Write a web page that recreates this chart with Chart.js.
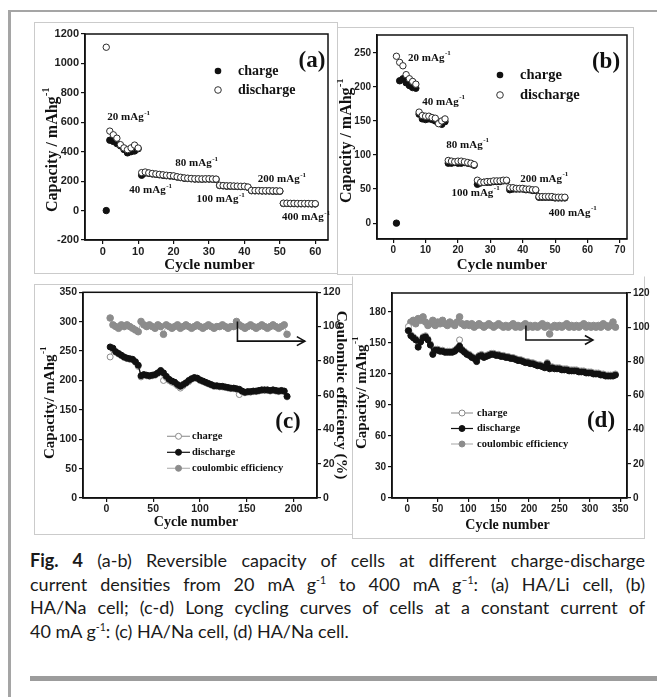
<!DOCTYPE html>
<html><head><meta charset="utf-8">
<script src="https://cdn.jsdelivr.net/npm/chart.js@4.4.1/dist/chart.umd.min.js"></script>
<style>
html,body{margin:0;padding:0;background:#fff;}
body{width:657px;height:697px;position:relative;overflow:hidden;}
canvas{position:absolute;}
.pbox{position:absolute;border:1.5px solid #cbcbcb;box-sizing:border-box;}
#outer{position:absolute;left:8px;top:10px;width:700px;height:700px;border-left:3px solid #a5a5a5;border-top:2.5px solid #a5a5a5;box-sizing:border-box;}
#cap{position:absolute;left:30px;top:549px;width:615px;font-family:Lato,"Open Sans",sans-serif;font-size:18px;color:#1a1a1a;line-height:23.7px;}
#cap .j{text-align:justify;text-align-last:justify;}
#cap sup{font-size:10.5px;line-height:0;vertical-align:baseline;position:relative;top:-7px;}
#bar{position:absolute;left:30px;top:676px;width:640px;height:5px;background:#9c9c9c;}
</style></head>
<body>
<div id="outer"></div>
<div class="pbox" style="left:34px;top:22px;width:304px;height:252px"></div>
<div class="pbox" style="left:337px;top:27px;width:297px;height:248px"></div>
<div class="pbox" style="left:34px;top:284px;width:319px;height:251px"></div>
<div class="pbox" style="left:352px;top:276px;width:293px;height:263px;border-top-color:#fff"></div>
<canvas id="ca" width="303" height="251" style="left:34px;top:22px"></canvas>
<canvas id="cb" width="296" height="247" style="left:337px;top:27px"></canvas>
<canvas id="cc" width="318" height="250" style="left:34px;top:284px"></canvas>
<canvas id="cd" width="300" height="262" style="left:352px;top:276px"></canvas>
<div id="cap">
<div class="j"><b>Fig. 4</b> (a-b) Reversible capacity of cells at different charge-discharge</div>
<div class="j">current densities from 20 mA g<sup>-1</sup> to 400 mA g<sup>–1</sup>: (a) HA/Li cell, (b)</div>
<div class="j">HA/Na cell; (c-d) Long cycling curves of cells at a constant current of</div>
<div>40 mA g<sup>-1</sup>: (c) HA/Na cell, (d) HA/Na cell.</div>
</div>
<div id="bar"></div>
<script>
// ---------------- data ----------------
const A_CYCLES = [1,2,3,4,5,6,7,8,9,10,11,12,13,14,15,16,17,18,19,20,21,22,23,24,25,26,27,28,29,30,31,32,33,34,35,36,37,38,39,40,41,42,43,44,45,46,47,48,49,50,51,52,53,54,55,56,57,58,59,60];
const A_DISCHARGE = [1110,540,515,492,448,426,414,426,445,425,
  258,262,256,252,249,246,243,240,238,236,
  230,226,222,220,218,216,216,215,216,216,
  215,214,172,170,168,168,167,166,165,165,
  160,137,136,136,135,135,135,134,134,133,
  50,50,49,49,48,48,48,48,47,47];
const A_CHARGE = [0,478,470,455,440,415,392,400,405,420,
  240,255,253,249,246,243,240,237,235,233,
  228,224,220,218,216,214,214,213,214,214,
  213,212,170,168,166,166,165,164,163,163,
  158,135,134,134,133,133,133,132,132,131,
  48,48,47,47,46,46,46,46,45,45];
const A_XTICKS = [0,10,20,30,40,50,60];
const A_YTICKS = [-200,0,200,400,600,800,1000,1200];

const B_CYCLES = [1,2,3,4,5,6,7,8,9,10,11,12,13,14,15,16,17,18,19,20,21,22,23,24,25,26,27,28,29,30,31,32,33,34,35,36,37,38,39,40,41,42,43,44,45,46,47,48,49,50,51,52,53];
const B_DISCHARGE = [245,236,231,218,212,208,204,
  163,158,157,157,155,154,146,150,153,
  92,91,90,91,91,90,89,88,86,
  63,60,60,61,61,62,62,62,63,63,
  52,52,51,51,51,50,50,49,49,
  39,39,39,39,39,38,38,38,38];
const B_CHARGE = [0,209,212,206,202,199,198,
  160,153,152,153,152,150,147,145,149,
  88,88,89,88,88,89,88,87,85,
  57,59,60,60,60,61,61,61,62,62,
  49,50,50,50,50,49,49,48,48,
  38,38,38,38,38,37,37,37,37];
const B_XTICKS = [0,10,20,30,40,50,60,70];
const B_YTICKS = [0,50,100,150,200,250];

const C_CYCLES = [4,7,10,13,16,19,22,25,28,31,34,37,40,43,46,49,52,55,58,61,64,67,70,73,76,79,82,85,88,91,94,97,100,103,106,109,112,115,118,121,124,127,130,133,136,139,142,145,148,151,154,157,160,163,166,169,172,175,178,181,184,187,190,193];
const C_DISCHARGE = [257,255,249,246,243,240,238,237,236,232,
  226,208,210,209,208,209,210,213,217,213,
  207,202,199,197,193,190,193,196,200,203,
  205,204,201,199,197,195,193,191,191,190,
  190,189,188,187,187,186,185,182,180,181,
  181,182,182,183,184,184,184,183,184,183,
  182,183,182,173];
const C_CHARGE = [240,253,248,245,242,239,237,236,235,231,
  224,206,209,208,207,208,209,212,215,200,
  205,200,197,195,191,187,191,195,198,202,
  204,203,200,198,196,194,192,190,190,189,
  189,188,187,186,186,185,176,181,179,180,
  180,181,181,182,183,183,183,182,183,182,
  181,182,181,172];
const C_CE = [105,101,100,99,101,100,101,100,99,98,
  97,103,101,100,101,100,99,101,100,95.5,
  101,100,99,100,101,99,100,101,100,99,
  100,101,100,99,100,101,100,99,100,100,
  101,100,99,100,100,103,101,100,99,100,
  101,100,99,100,101,100,99,100,101,100,
  99,100,101,95.5];
const C_XTICKS = [0,50,100,150,200];
const C_YTICKS = [0,50,100,150,200,250,300,350];
const C_Y2TICKS = [0,20,40,60,80,100,120];

const D_CYCLES = [2,6,10,14,18,22,26,30,34,38,42,46,50,54,58,62,66,70,74,78,82,86,90,94,98,102,106,110,114,118,122,126,130,134,138,142,146,150,154,158,162,166,170,174,178,182,186,190,194,198,202,206,210,214,218,222,226,230,234,238,242,246,250,254,258,262,266,270,274,278,282,286,290,294,298,302,306,310,314,318,322,326,330,334,338,342];
const D_DISCHARGE = [162,157,155,153,146,151,155,156,153,148,
  139,143,143,142,142,141,141,141,141,142,
  144,147,143,141,139,138,136,135,132,137,
  138,136,137,138,139,139,138,138,137,137,
  136,136,135,135,134,133,133,132,131,131,
  130,130,129,128,128,127,126,130,125,126,
  125,125,125,124,124,124,123,123,123,123,
  122,122,122,121,121,121,120,120,120,119,
  119,118,118,118,118,119];
const D_CHARGE = [166,158,156,154,148,152,156,157,154,149,
  140,144,144,143,143,142,142,142,142,143,
  145,153,144,142,140,139,137,136,133,138,
  139,137,138,139,140,140,139,139,138,138,
  137,137,136,136,135,134,134,133,132,132,
  131,131,130,129,129,128,127,131,126,127,
  126,126,126,125,125,125,124,124,124,124,
  123,123,123,122,122,122,121,121,121,120,
  120,119,119,119,119,120];
const D_CE = [98,103,104,102,105,104,106,103,101,102,
  104,101,103,102,104,102,101,103,102,101,
  103,106,102,101,102,101,102,100,101,102,
  101,100,101,102,101,100,101,102,101,100,
  101,100,101,102,100,101,100,101,102,100,
  101,100,101,100,101,102,100,101,96,100,
  101,100,101,100,101,102,100,101,100,101,
  100,101,102,100,101,100,101,100,101,100,
  102,101,100,101,103,100];
const D_XTICKS = [0,50,100,150,200,250,300,350];
const D_YTICKS = [0,30,60,90,120,150,180];
const D_Y2TICKS = [0,20,40,60,80,100,120];

// ---------------- helpers ----------------
const SERIF = '"Liberation Serif","Times New Roman",serif';
const SANS = '"Liberation Sans",Arial,sans-serif';
function pairs(xs, ys){ return xs.map((x,i)=>({x:x, y:ys[i]})); }

function supText(ctx, x, y, base, sup, size, o){
  o = o || {};
  ctx.save();
  ctx.translate(x, y); ctx.rotate(o.rot || 0);
  ctx.fillStyle = o.color || '#111';
  ctx.textBaseline = 'middle'; ctx.textAlign = 'left';
  const f1 = 'bold ' + size + 'px ' + SERIF;
  const ss = Math.round(size * 0.62);
  const f2 = 'bold ' + ss + 'px ' + SERIF;
  ctx.font = f1; const w1 = ctx.measureText(base).width;
  ctx.font = f2; const w2 = sup ? ctx.measureText(sup).width : 0;
  const x0 = (o.align === 'left') ? 0 : -(w1 + w2) / 2;
  ctx.font = f1; ctx.fillText(base, x0, 0);
  if (sup) { ctx.font = f2; ctx.fillText(sup, x0 + w1 + 0.5, -size * 0.42); }
  ctx.restore();
}

const deco = {
  id: 'deco',
  afterDatasetsDraw(chart, args, o){
    const ctx = chart.ctx, ca = chart.chartArea, sx = chart.scales.x, sy = chart.scales.y;
    ctx.save();
    ctx.strokeStyle = '#111'; ctx.lineWidth = 1.5;
    ctx.strokeRect(ca.left, ca.top, ca.right - ca.left, ca.bottom - ca.top);
    ctx.restore();
    if (o.arrow){
      const a = o.arrow, s2 = chart.scales[a.axis];
      const X0 = sx.getPixelForValue(a.x), Y0 = s2.getPixelForValue(a.yTop);
      const Y1 = s2.getPixelForValue(a.yBend), X1 = sx.getPixelForValue(a.xEnd);
      ctx.save(); ctx.strokeStyle = '#111'; ctx.lineWidth = 1.6;
      ctx.beginPath(); ctx.moveTo(X0, Y0); ctx.lineTo(X0, Y1); ctx.lineTo(X1, Y1); ctx.stroke();
      ctx.beginPath(); ctx.moveTo(X1 - 8, Y1 - 4.5); ctx.lineTo(X1, Y1); ctx.lineTo(X1 - 8, Y1 + 4.5); ctx.stroke();
      ctx.restore();
    }
    (o.notes || []).forEach(n => supText(ctx, sx.getPixelForValue(n.x), sy.getPixelForValue(n.y), n.text, n.sup, n.size, {align:'left'}));
    if (o.legend){
      const L = o.legend;
      L.items.forEach((it, i) => {
        const cx = ca.left + L.dx, cy = ca.top + L.dy + i * L.gap;
        ctx.save(); ctx.beginPath(); ctx.arc(cx, cy, L.r, 0, Math.PI * 2);
        if (it.open){ ctx.fillStyle = '#fff'; ctx.fill(); ctx.strokeStyle = '#333'; ctx.lineWidth = 1; ctx.stroke(); }
        else { ctx.fillStyle = '#111'; ctx.fill(); }
        ctx.restore();
        supText(ctx, ca.left + L.tx, cy, it.label, '', L.size, {align:'left'});
      });
    }
    if (o.legend2){
      const L = o.legend2;
      L.items.forEach((it, i) => {
        const x0 = ca.left + L.lx, cy = ca.top + L.dy + i * L.gap;
        ctx.save();
        ctx.strokeStyle = it.line; ctx.lineWidth = 1.2;
        ctx.beginPath(); ctx.moveTo(x0, cy); ctx.lineTo(x0 + L.lw, cy); ctx.stroke();
        ctx.beginPath(); ctx.arc(x0 + L.lw / 2, cy, L.r, 0, Math.PI * 2);
        ctx.fillStyle = it.fill; ctx.fill(); ctx.strokeStyle = it.stroke; ctx.lineWidth = 1; ctx.stroke();
        ctx.restore();
        supText(ctx, ca.left + L.tx, cy, it.label, '', L.size, {align:'left'});
      });
    }
    if (o.label) supText(ctx, ca.left + o.label.dx, ca.top + o.label.dy, o.label.text, '', o.label.size, {});
    if (o.yTitle) supText(ctx, o.yTitle.x, o.yTitle.y, o.yTitle.text, o.yTitle.sup, o.yTitle.size, {rot: -Math.PI / 2});
    if (o.y2Title) supText(ctx, o.y2Title.x, o.y2Title.y, o.y2Title.text, '', o.y2Title.size, {rot: Math.PI / 2});
    if (o.xTitle) supText(ctx, (ca.left + ca.right) / 2 + (o.xTitle.dx || 0), o.xTitle.y, o.xTitle.text, '', o.xTitle.size, {});
  }
};

function axis(min, max, ticks, o){
  return {
    type: 'linear', position: o.pos, min: min, max: max,
    afterBuildTicks: s => { s.ticks = ticks.map(v => ({value: v})); },
    afterFit: s => { if (o.w != null) s.width = o.w; if (o.h != null) s.height = o.h; },
    ticks: { autoSkip: false, maxRotation: 0, minRotation: 0, padding: (o.pad != null ? o.pad : 2), color: '#1e1e1e',
      font: { family: SANS, weight: 'bold', size: o.fs || 10.5 }, callback: v => String(v) },
    grid: { drawOnChartArea: false, drawTicks: true, tickLength: 4, color: '#111', lineWidth: 1.2 },
    border: { display: true, color: '#111', width: 1.5 }
  };
}

const OPEN = { pointRadius: 3.2, pointBackgroundColor: '#fff', pointBorderColor: '#2a2a2a', pointBorderWidth: 1, showLine: false };
const FILLED = { pointRadius: 3.2, pointBackgroundColor: '#111', pointBorderColor: '#111', pointBorderWidth: 1, showLine: false };
const BASE = { responsive: false, animation: false, events: [] };

// ---------------- (a) ----------------
new Chart(document.getElementById('ca'), {
  type: 'scatter',
  data: { datasets: [
    Object.assign({ label: 'discharge', data: pairs(A_CYCLES, A_DISCHARGE) }, OPEN),
    Object.assign({ label: 'charge', data: pairs(A_CYCLES, A_CHARGE) }, FILLED)
  ]},
  options: Object.assign({}, BASE, {
    layout: { padding: { top: 12, right: 9, left: 0, bottom: 0 } },
    plugins: { legend: { display: false }, tooltip: { enabled: false },
      deco: {
        yTitle: { x: 19, y: 128, text: 'Capacity / mAhg', sup: '-1', size: 16 },
        xTitle: { y: 243, text: 'Cycle number', size: 15, dx: 3 },
        label: { dx: 227, dy: 27, text: '(a)', size: 23 },
        legend: { dx: 133, dy: 37, gap: 19, r: 3.3, tx: 153, size: 14, items: [ {label:'charge'}, {label:'discharge', open:true} ] },
        notes: [
          { x: 1.3, y: 632, text: '20 mAg', sup: '-1', size: 11 },
          { x: 7.5, y: 136, text: '40 mAg', sup: '-1', size: 11 },
          { x: 20.5, y: 320, text: '80 mAg', sup: '-1', size: 11 },
          { x: 26.5, y: 75, text: '100 mAg', sup: '-1', size: 11 },
          { x: 43.8, y: 211, text: '200 mAg', sup: '-1', size: 11 },
          { x: 50.6, y: -48, text: '400 mAg', sup: '-1', size: 11 }
        ]
      } },
    scales: {
      x: axis(-5, 63.6, A_XTICKS, { pos: 'bottom', h: 33, fs: 11, pad: 1 }),
      y: axis(-200, 1200, A_YTICKS, { pos: 'left', w: 51, fs: 11 })
    }
  }),
  plugins: [deco]
});

// ---------------- (b) ----------------
new Chart(document.getElementById('cb'), {
  type: 'scatter',
  data: { datasets: [
    Object.assign({ label: 'discharge', data: pairs(B_CYCLES, B_DISCHARGE) }, OPEN),
    Object.assign({ label: 'charge', data: pairs(B_CYCLES, B_CHARGE) }, FILLED)
  ]},
  options: Object.assign({}, BASE, {
    layout: { padding: { top: 6, right: 6, left: 0, bottom: 0 } },
    plugins: { legend: { display: false }, tooltip: { enabled: false },
      deco: {
        yTitle: { x: 10, y: 114, text: 'Capacity / mAhg', sup: '-1', size: 16 },
        xTitle: { y: 238, text: 'Cycle number', size: 15 },
        label: { dx: 229, dy: 27, text: '(b)', size: 23 },
        legend: { dx: 123, dy: 40, gap: 20, r: 3.3, tx: 143, size: 14.5, items: [ {label:'charge'}, {label:'discharge', open:true} ] },
        notes: [
          { x: 4.6, y: 242, text: '20 mAg', sup: '-1', size: 11 },
          { x: 9, y: 178, text: '40 mAg', sup: '-1', size: 11 },
          { x: 16.4, y: 115, text: '80 mAg', sup: '-1', size: 11 },
          { x: 18, y: 44, text: '100 mAg', sup: '-1', size: 11 },
          { x: 39.2, y: 65, text: '200 mAg', sup: '-1', size: 11 },
          { x: 48, y: 15, text: '400 mAg', sup: '-1', size: 11 }
        ]
      } },
    scales: {
      x: axis(-5, 72.2, B_XTICKS, { pos: 'bottom', h: 35, fs: 10, pad: 1 }),
      y: axis(-23.3, 276.2, B_YTICKS, { pos: 'left', w: 40, fs: 10 })
    }
  }),
  plugins: [deco]
});

// ---------------- (c) & (d) ----------------
function cycleDatasets(cyc, dis, chg, ce){
  return [
    { label: 'discharge', data: pairs(cyc, dis), yAxisID: 'y', showLine: true, borderColor: '#111', borderWidth: 1.3,
      pointRadius: 3, pointBackgroundColor: '#111', pointBorderColor: '#111', pointBorderWidth: 1 },
    { label: 'charge', data: pairs(cyc, chg), yAxisID: 'y', showLine: true, borderColor: '#9a9a9a', borderWidth: 1,
      pointRadius: 3, pointBackgroundColor: '#fff', pointBorderColor: '#8a8a8a', pointBorderWidth: 1 },
    { label: 'coulombic efficiency', data: pairs(cyc, ce), yAxisID: 'y1', showLine: true, borderColor: '#b0b0b0', borderWidth: 1,
      pointRadius: 3.3, pointBackgroundColor: '#8c8c8c', pointBorderColor: '#8c8c8c', pointBorderWidth: 1 }
  ];
}
const LEG2 = [
  { label: 'charge', line: '#9a9a9a', fill: '#fff', stroke: '#8a8a8a' },
  { label: 'discharge', line: '#111', fill: '#111', stroke: '#111' },
  { label: 'coulombic efficiency', line: '#b5b5b5', fill: '#8c8c8c', stroke: '#8c8c8c' }
];

new Chart(document.getElementById('cc'), {
  type: 'scatter',
  data: { datasets: cycleDatasets(C_CYCLES, C_DISCHARGE, C_CHARGE, C_CE) },
  options: Object.assign({}, BASE, {
    layout: { padding: { top: 7, right: 0, left: 0, bottom: 0 } },
    plugins: { legend: { display: false }, tooltip: { enabled: false },
      deco: {
        yTitle: { x: 16, y: 119, text: 'Capacity/ mAhg', sup: '-1', size: 15 },
        y2Title: { x: 307, y: 111, text: 'Coulombic efficiency (%)', size: 15.5 },
        xTitle: { y: 238, text: 'Cycle number', size: 14, dx: -4 },
        label: { dx: 205, dy: 130, text: '(c)', size: 23 },
        legend2: { lx: 84, lw: 23, r: 3, tx: 109, dy: 144, gap: 16, size: 10.5, items: LEG2 },
        arrow: { axis: 'y1', x: 140, yTop: 103, yBend: 91.5, xEnd: 212 }
      } },
    scales: {
      x: axis(-25, 225, C_XTICKS, { pos: 'bottom', h: 36, fs: 10.5, pad: 1 }),
      y: axis(0, 350, C_YTICKS, { pos: 'left', w: 49, fs: 10.5 }),
      y1: axis(0, 120, C_Y2TICKS, { pos: 'right', w: 35, fs: 10.5 })
    }
  }),
  plugins: [deco]
});

new Chart(document.getElementById('cd'), {
  type: 'scatter',
  data: { datasets: cycleDatasets(D_CYCLES, D_DISCHARGE, D_CHARGE, D_CE) },
  options: Object.assign({}, BASE, {
    layout: { padding: { top: 17, right: 0, left: 0, bottom: 0 } },
    plugins: { legend: { display: false }, tooltip: { enabled: false },
      deco: {
        yTitle: { x: 10, y: 117, text: 'Capacity/ mAhg', sup: '-1', size: 15 },
        xTitle: { y: 249, text: 'Cycle number', size: 14, dx: -2 },
        label: { dx: 209, dy: 128, text: '(d)', size: 23 },
        legend2: { lx: 59, lw: 22, r: 3, tx: 85, dy: 120, gap: 15.5, size: 10.5, items: LEG2 },
        arrow: { axis: 'y1', x: 195, yTop: 101, yBend: 92.5, xEnd: 305 }
      } },
    scales: {
      x: axis(-25, 361, D_XTICKS, { pos: 'bottom', h: 40, fs: 10, pad: 1 }),
      y: axis(0, 198.4, D_YTICKS, { pos: 'left', w: 40, fs: 10 }),
      y1: axis(0, 120, D_Y2TICKS, { pos: 'right', w: 25, fs: 10 })
    }
  }),
  plugins: [deco]
});
</script>
</body></html>
